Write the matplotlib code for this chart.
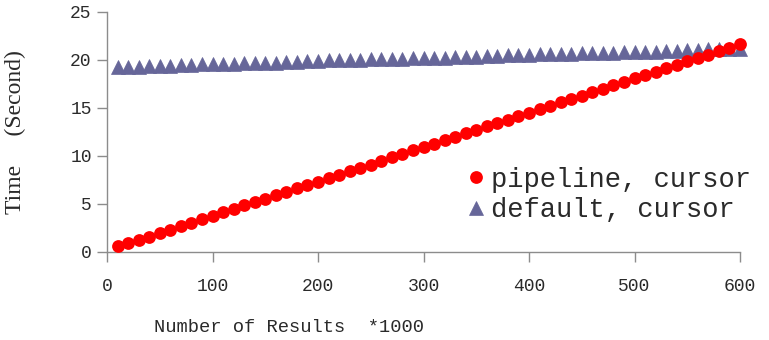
import matplotlib
matplotlib.use("Agg")
import matplotlib.pyplot as plt

results_k = [10, 20, 30, 40, 50, 60, 70, 80, 90, 100,
             110, 120, 130, 140, 150, 160, 170, 180, 190, 200,
             210, 220, 230, 240, 250, 260, 270, 280, 290, 300,
             310, 320, 330, 340, 350, 360, 370, 380, 390, 400,
             410, 420, 430, 440, 450, 460, 470, 480, 490, 500,
             510, 520, 530, 540, 550, 560, 570, 580, 590, 600]

pipeline_cursor = [0.60, 0.90, 1.25, 1.60, 1.95, 2.30, 2.72, 3.05, 3.42, 3.75,
                   4.12, 4.45, 4.85, 5.25, 5.55, 5.95, 6.30, 6.62, 7.00, 7.30,
                   7.72, 8.05, 8.45, 8.80, 9.10, 9.52, 9.85, 10.25, 10.60, 10.95,
                   11.30, 11.62, 12.00, 12.38, 12.72, 13.10, 13.42, 13.80, 14.15, 14.50,
                   14.90, 15.22, 15.60, 15.95, 16.30, 16.68, 17.02, 17.40, 17.72, 18.10,
                   18.45, 18.80, 19.15, 19.50, 19.90, 20.22, 20.55, 20.95, 21.30, 21.70]

default_cursor = [19.30, 19.30, 19.32, 19.33, 19.42, 19.42, 19.43, 19.45, 19.55, 19.56,
                  19.57, 19.58, 19.68, 19.70, 19.72, 19.72, 19.82, 19.83, 19.85, 19.86,
                  19.95, 19.96, 19.97, 19.99, 20.08, 20.10, 20.11, 20.12, 20.20, 20.21,
                  20.23, 20.24, 20.33, 20.35, 20.36, 20.37, 20.46, 20.47, 20.48, 20.50,
                  20.58, 20.60, 20.61, 20.62, 20.71, 20.72, 20.74, 20.75, 20.84, 20.85,
                  20.86, 20.88, 20.97, 20.98, 20.99, 21.00, 21.10, 21.12, 21.14, 21.19]

x_ticks = [0, 100, 200, 300, 400, 500, 600]
y_ticks = [0, 5, 10, 15, 20, 25]

mono = "Liberation Mono"
serif = "Liberation Serif"
txt = "#2a2a2a"
axc = "#8c8c8c"

fig = plt.figure(figsize=(7.69, 3.40), dpi=100)
ax = fig.add_axes([107/769, 1 - 252/340, (740-107)/769, 240/340])

ax.plot(results_k, pipeline_cursor, linestyle="none", marker="o", markersize=9.2,
        color="#FF0000", markeredgewidth=0, label="pipeline, cursor", clip_on=False, zorder=3)
ax.plot(results_k, default_cursor, linestyle="none", marker="^", markersize=9.5,
        color="#666699", markeredgewidth=0.5, label="default, cursor", clip_on=False, zorder=2)

ax.set_xlim(0, 600)
ax.set_ylim(0, 25)
ax.set_xticks(x_ticks)
ax.set_yticks(y_ticks)

for s in ["top", "right"]:
    ax.spines[s].set_visible(False)
for s in ["left", "bottom"]:
    ax.spines[s].set_color(axc)
    ax.spines[s].set_linewidth(1.0)

ax.tick_params(axis="x", direction="out", length=7, width=1, color=axc, pad=12,
               labelsize=13, labelcolor=txt)
ax.tick_params(axis="y", direction="out", length=7, width=1, color=axc, pad=4,
               labelsize=13, labelcolor=txt)
for lab in ax.get_xticklabels() + ax.get_yticklabels():
    lab.set_fontfamily(mono)

ax.set_xlabel("Number of Results  *1000", fontfamily=mono, fontsize=13.5, color=txt)
ax.xaxis.set_label_coords((289-107)/633, (252-327)/240)
ax.xaxis.label.set_verticalalignment("center")

ax.set_ylabel("Time     (Second)", fontfamily=serif, fontsize=17, color=txt)
ax.yaxis.set_label_coords((15-107)/633, (252-132)/240)
ax.yaxis.label.set_verticalalignment("center")

leg = ax.legend(loc="center left", bbox_to_anchor=((452-107)/633, (252-195)/240),
                frameon=False, prop={"family": mono, "size": 19.5},
                handletextpad=0.05, handlelength=1.0, labelspacing=0.15,
                borderaxespad=0, labelcolor=txt)

fig.savefig("out.png", dpi=100)
